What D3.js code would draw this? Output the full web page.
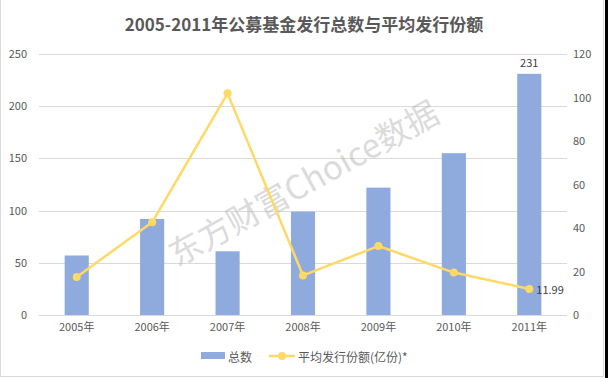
<!DOCTYPE html>
<html><head><meta charset="utf-8">
<script src="https://cdn.jsdelivr.net/npm/d3@7"></script>
<style>body{margin:0;background:#fff}svg{display:block}</style>
</head><body>
<svg id="c" width="608" height="378"></svg>
<script>
const categories = ["2005年","2006年","2007年","2008年","2009年","2010年","2011年"];
const totalCount = [57, 92, 61, 99, 122, 155, 231];
const avgShares = [17.5, 42.6, 101.9, 18.2, 31.7, 19.5, 11.99];
const leftTicks = [0, 50, 100, 150, 200, 250];
const rightTicks = [0, 20, 40, 60, 80, 100, 120];
const title = "2005-2011年公募基金发行总数与平均发行份额";
const seriesNames = ["总数", "平均发行份额(亿份)*"];

const svg = d3.select("#c");
const font = "'Microsoft YaHei','Noto Sans CJK SC','DejaVu Sans',sans-serif";
const W = 608, H = 378;
const m = {left: 39, right: 567, top: 54, bottom: 315};

svg.append("rect").attr("x",0).attr("y",0).attr("width",W).attr("height",H).attr("fill","#fff");
svg.append("rect").attr("x",0.5).attr("y",-1).attr("width",603).attr("height",377.5)
  .attr("fill","none").attr("stroke","#d9d9d9");
svg.append("rect").attr("x",605).attr("y",0).attr("width",3).attr("height",H).attr("fill","#000");

const x = d3.scaleBand().domain(categories).range([m.left, m.right]).paddingInner(0.68).paddingOuter(0.34);
const yL = d3.scaleLinear().domain([0,250]).range([m.bottom, m.top]);
const yR = d3.scaleLinear().domain([0,120]).range([m.bottom, m.top]);

// gridlines
svg.append("g").selectAll("line").data(leftTicks).join("line")
  .attr("x1", m.left).attr("x2", m.right)
  .attr("y1", d => Math.round(yL(d))+0.5).attr("y2", d => Math.round(yL(d))+0.5)
  .attr("stroke", "#d9d9d9").attr("stroke-width", 1);

// left axis labels
const axL = svg.append("g").attr("transform", `translate(${m.left-12},0)`)
  .call(d3.axisLeft(yL).tickValues(leftTicks).tickSize(0).tickPadding(0));
axL.select(".domain").remove();
axL.selectAll("text").attr("font-family", font).attr("font-size", 11).attr("fill", "#595959");

const axR = svg.append("g").attr("transform", `translate(${m.right+6},0)`)
  .call(d3.axisRight(yR).tickValues(rightTicks).tickSize(0).tickPadding(0));
axR.select(".domain").remove();
axR.selectAll("text").attr("font-family", font).attr("font-size", 11).attr("fill", "#595959");

const axB = svg.append("g").attr("transform", `translate(0,${m.bottom+8})`)
  .call(d3.axisBottom(x).tickSize(0).tickPadding(0));
axB.select(".domain").remove();
axB.selectAll("text").attr("font-family", font).attr("font-size", 11).attr("fill", "#595959").attr("dy","0.71em");

// bars
svg.append("g").selectAll("rect").data(totalCount).join("rect")
  .attr("x", (d,i) => x(categories[i]))
  .attr("width", x.bandwidth())
  .attr("y", d => yL(d))
  .attr("height", d => yL(0) - yL(d))
  .attr("fill", "#8faadc");

// bar label for last
svg.append("text").attr("x", x(categories[6]) + x.bandwidth()/2).attr("y", yL(totalCount[6]) - 7)
  .attr("text-anchor","middle").attr("font-family", font).attr("font-size", 11).attr("fill","#404040")
  .text(totalCount[6]);

// watermark
svg.append("text").attr("transform","translate(305,186) rotate(-29)")
  .attr("text-anchor","middle").attr("dominant-baseline","middle")
  .attr("font-family", font).attr("font-size", 33).attr("fill","#b0b0b0").attr("opacity",0.45)
  .text("东方财富Choice数据");

// line
const cx = (d,i) => x(categories[i]) + x.bandwidth()/2;
const line = d3.line().x(cx).y(d => yR(d));
svg.append("path").datum(avgShares).attr("d", line)
  .attr("fill","none").attr("stroke","#ffd966").attr("stroke-width",2.5).attr("stroke-linejoin","round");
svg.append("g").selectAll("circle").data(avgShares).join("circle")
  .attr("cx", cx).attr("cy", d => yR(d)).attr("r", 4).attr("fill","#ffd966");

svg.append("text").attr("x", cx(avgShares[6],6) + 7).attr("y", yR(avgShares[6]))
  .attr("dominant-baseline","central").attr("font-family", font).attr("font-size", 11).attr("fill","#404040")
  .text(avgShares[6].toFixed(2));

// title
svg.append("text").attr("x", 304).attr("y", 31).attr("text-anchor","middle")
  .attr("font-family", font).attr("font-size", 17).attr("font-weight","bold").attr("fill","#595959")
  .text(title);

// legend
const lg = svg.append("g");
lg.append("rect").attr("x",201).attr("y",352).attr("width",24).attr("height",7).attr("fill","#8faadc");
lg.append("text").attr("x",228).attr("y",356).attr("dominant-baseline","central")
  .attr("font-family", font).attr("font-size", 12).attr("fill","#595959").text(seriesNames[0]);
lg.append("line").attr("x1",269).attr("x2",295).attr("y1",356).attr("y2",356)
  .attr("stroke","#ffd966").attr("stroke-width",2.5);
lg.append("circle").attr("cx",282).attr("cy",356).attr("r",4).attr("fill","#ffd966");
lg.append("text").attr("x",298).attr("y",356).attr("dominant-baseline","central")
  .attr("font-family", font).attr("font-size", 12).attr("fill","#595959").text(seriesNames[1]);
</script>
</body></html>
